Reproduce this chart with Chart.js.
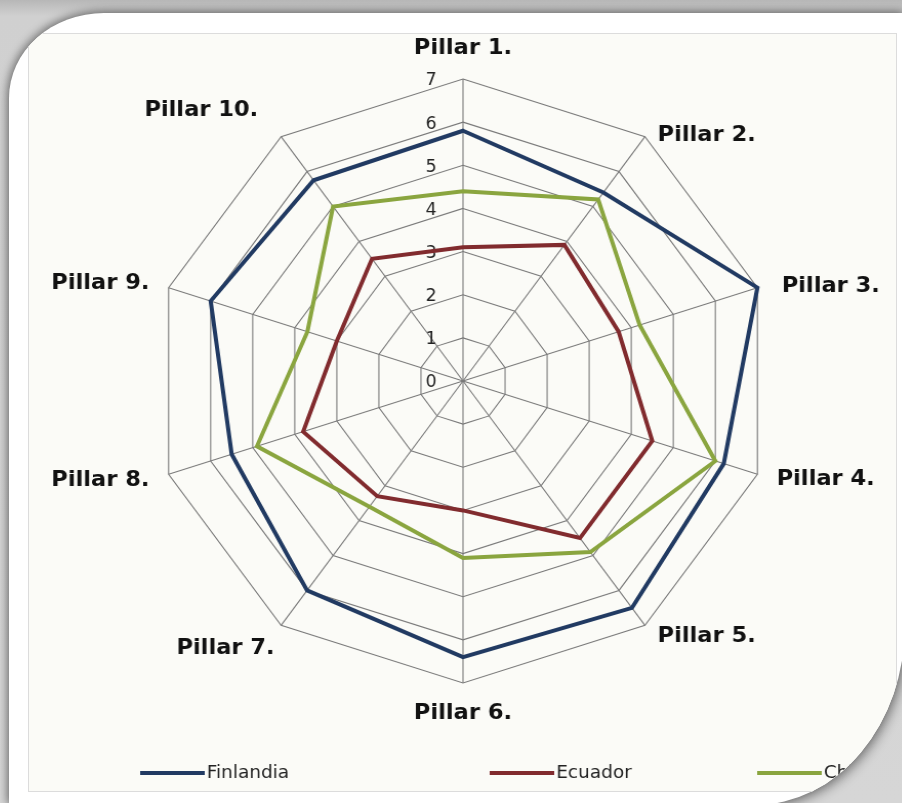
<!DOCTYPE html>
<html>
<head>
<meta charset="utf-8">
<script src="https://cdn.jsdelivr.net/npm/chart.js@4.4.1/dist/chart.umd.min.js"></script>
<style>
  html, body { margin: 0; padding: 0; width: 902px; height: 803px; overflow: hidden; }
  body {
    position: relative;
    background: linear-gradient(180deg, #b7b7b7 0px, #d0d0d0 16px, #d6d6d6 100%);
  }
  #card {
    position: absolute; left: 9px; top: 13px; width: 896px; height: 792px;
    background: #ffffff;
    border-top-left-radius: 95px 85px;
    border-bottom-right-radius: 150px 180px;
    box-shadow: -2px -2px 9px rgba(0,0,0,0.35), 3px 3px 12px rgba(0,0,0,0.4);
    overflow: hidden;
  }
  #panel {
    position: absolute; left: 19px; top: 20px; width: 867px; height: 757px;
    background: #fbfbf7; border: 1px solid #dcdcdc; overflow: hidden;
  }
  /* the plot is slightly wider than tall */
  #chart { position: absolute; left: -29px; top: -34px; transform: scaleX(1.025); transform-origin: 463px 0; }
</style>
</head>
<body>
<div id="card"><div id="panel"><canvas id="chart" width="902" height="803"></canvas></div></div>
<script>
// Pillar scores per country (scale 0–7)
const categories = ['Pillar 1.', 'Pillar 2.', 'Pillar 3.', 'Pillar 4.', 'Pillar 5.',
                    'Pillar 6.', 'Pillar 7.', 'Pillar 8.', 'Pillar 9.', 'Pillar 10.'];
const seriesNames = ['Finlandia', 'Ecuador', 'Chile'];
const finlandia = [5.8, 5.4, 7.0, 6.2, 6.5, 6.4, 6.0, 5.5, 6.0, 5.75];
const ecuador   = [3.1, 3.9, 3.7, 4.5, 4.5, 3.0, 3.3, 3.8, 3.0, 3.5];
const chile     = [4.4, 5.2, 4.2, 6.0, 4.9, 4.1, 3.6, 4.9, 3.7, 5.0];
const tickValues = [0, 1, 2, 3, 4, 5, 6, 7];

const colors = ['#213a62', '#812b2e', '#8aa53f'];

// Axis numbers, spoke labels and the legend row are drawn here
const overlay = {
  id: 'overlay',
  beforeDatasetsDraw(chart, args, opts) {
    const s = chart.scales.r;
    const ctx = chart.ctx;
    ctx.save();
    ctx.font = '17px "DejaVu Sans"';
    ctx.fillStyle = '#222222';
    ctx.textAlign = 'center';
    ctx.textBaseline = 'middle';
    tickValues.forEach(v => {
      const d = s.getDistanceFromCenterForValue(v);
      ctx.fillText(String(v), s.xCenter - 31, s.yCenter - d + 2);
    });
    ctx.font = 'bold 22px "DejaVu Sans"';
    ctx.fillStyle = '#111111';
    s._pointLabels.forEach((lab, i) => {
      const p = s.getPointPosition(i, s.drawingArea + 26);
      const sx = Math.sin(s.getIndexAngle(i));
      const [nx, ny] = opts.labelNudge[i];
      ctx.textAlign = Math.abs(sx) < 0.05 ? 'center' : (sx > 0 ? 'left' : 'right');
      ctx.fillText(lab, p.x + nx, p.y + ny);
    });
    ctx.restore();
  },
  afterDraw(chart, args, opts) {
    const ctx = chart.ctx;
    ctx.save();
    ctx.font = '18px "DejaVu Sans"';
    ctx.textBaseline = 'middle';
    ctx.textAlign = 'left';
    chart.data.datasets.forEach((ds, i) => {
      const x = opts.itemX[i], y = opts.rowY;
      ctx.strokeStyle = ds.borderColor;
      ctx.lineWidth = 4;
      ctx.beginPath();
      ctx.moveTo(x, y);
      ctx.lineTo(x + opts.lineLen, y);
      ctx.stroke();
      ctx.fillStyle = '#222222';
      ctx.fillText(ds.label, x + opts.lineLen + 2, y);
    });
    ctx.restore();
  }
};

const series = [finlandia, ecuador, chile];

new Chart(document.getElementById('chart'), {
  type: 'radar',
  data: {
    labels: categories,
    datasets: series.map((vals, i) => ({
      label: seriesNames[i],
      data: vals,
      borderColor: colors[i],
      backgroundColor: 'transparent',
      borderWidth: 4,
      borderJoinStyle: 'miter',
      pointRadius: 0,
      pointHoverRadius: 0,
      fill: false,
      tension: 0
    }))
  },
  options: {
    responsive: false,
    animation: false,
    devicePixelRatio: 1,
    layout: { padding: { left: 161, right: 137, top: 79, bottom: 120 } },
    plugins: {
      legend: { display: false },
      tooltip: { enabled: false },
      overlay: {
        itemX: [148, 489, 750], rowY: 773, lineLen: 63,
        labelNudge: [[0, -5], [-3, 20], [-1, 7], [-6, -3], [-3, -10],
                     [0, 4], [9, 2], [6, -2], [6, 4], [-7, -5]]
      }
    },
    scales: {
      r: {
        min: tickValues[0],
        max: tickValues[tickValues.length - 1],
        ticks: { display: false, stepSize: 1 },
        pointLabels: { display: false },
        grid: { color: '#7a7a7a', lineWidth: 1.1 },
        angleLines: { color: '#7a7a7a', lineWidth: 1.1 }
      }
    }
  },
  plugins: [overlay]
});
</script>
</body>
</html>
